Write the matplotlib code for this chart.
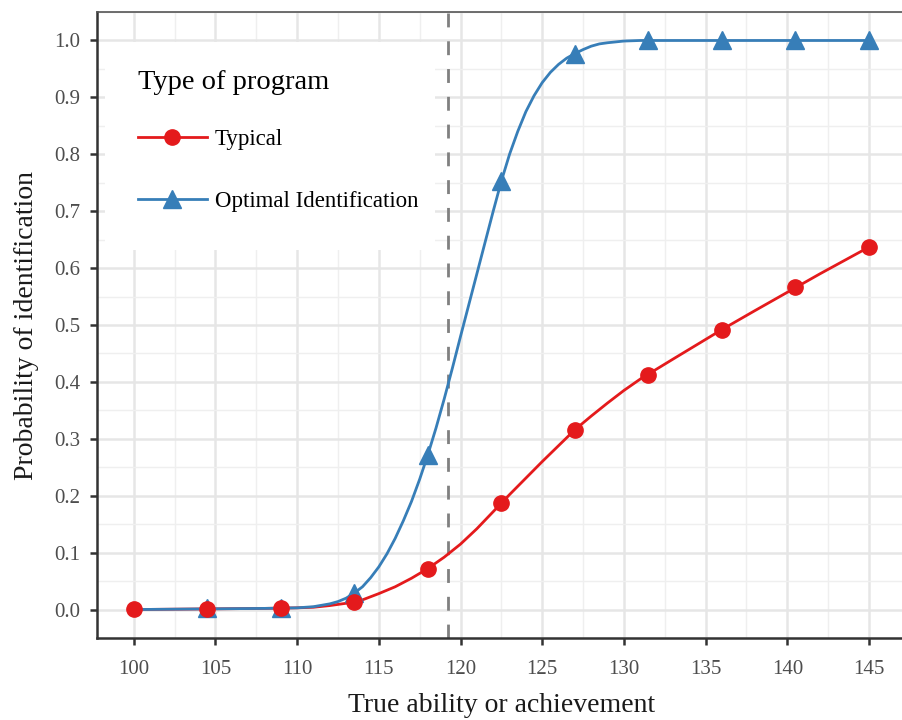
import numpy as np
import matplotlib
matplotlib.use("Agg")
import matplotlib.pyplot as plt
from matplotlib.lines import Line2D
from matplotlib.patches import Rectangle
from matplotlib.ticker import MultipleLocator

# marker positions
typical_x = [100, 104.5, 109, 113.5, 118, 122.5, 127, 131.5, 136, 140.5, 145]
typical_y = [0.001, 0.001, 0.003, 0.014, 0.072, 0.188, 0.316, 0.413, 0.492, 0.566, 0.637]

optimal_x = [104.5, 109, 113.5, 118, 122.5, 127, 131.5, 136, 140.5, 145]
optimal_y = [0.002, 0.003, 0.029, 0.272, 0.753, 0.977, 1.0, 1.0, 1.0, 1.0]

# the smooth lines, read at more x positions
typical_curve_x = [100, 104, 108, 110, 111, 112, 113, 114, 115, 116, 117, 118, 119,
                   120, 121, 122, 123, 124, 125, 126, 127, 128, 129, 130, 131, 133,
                   136, 138, 142, 145]
typical_curve = [0.000, 0.001, 0.002, 0.003, 0.004, 0.007, 0.011, 0.017, 0.028,
                 0.040, 0.055, 0.072, 0.092, 0.115, 0.142, 0.172, 0.202, 0.231,
                 0.260, 0.288, 0.316, 0.340, 0.363, 0.385, 0.405, 0.440, 0.492,
                 0.525, 0.590, 0.637]

optimal_curve_x = [100, 104, 108, 110, 111, 112, 112.5, 113, 113.5, 114, 114.5, 115,
                   115.5, 116, 116.5, 117, 117.5, 118, 118.5, 119, 119.5, 120, 120.5,
                   121, 121.5, 122, 122.5, 123, 123.5, 124, 124.5, 125, 125.5, 126,
                   126.5, 127, 127.5, 128, 128.5, 129, 130, 131, 135, 145]
optimal_curve = [0.000, 0.001, 0.002, 0.003, 0.005, 0.010, 0.014, 0.020, 0.029, 0.040,
                 0.056, 0.075, 0.098, 0.125, 0.156, 0.190, 0.229, 0.272, 0.319, 0.370,
                 0.424, 0.480, 0.535, 0.590, 0.645, 0.700, 0.753, 0.800, 0.840, 0.875,
                 0.903, 0.926, 0.944, 0.958, 0.969, 0.977, 0.984, 0.990, 0.994, 0.996,
                 0.999, 1.0, 1.0, 1.0]

cutoff = 119.25

red = "#E41A1C"
blue = "#377EB8"

plt.rcParams["font.family"] = ["Liberation Serif", "DejaVu Serif"]

fig = plt.figure(figsize=(9.02, 7.2), dpi=100)
ax = fig.add_axes([0.1075, 0.1139, 0.8967, 0.8694])

ax.plot(typical_curve_x, typical_curve, color=red, lw=2, zorder=3)
ax.plot(optimal_curve_x, optimal_curve, color=blue, lw=2, zorder=3)
ax.plot(optimal_x, optimal_y, "^", color=blue, ms=12.5, zorder=4)
ax.plot(typical_x, typical_y, "o", color=red, ms=11, zorder=5)

ax.axvline(cutoff, color="#808080", lw=2, ls=(0, (5, 5)), zorder=2)

ax.set_xlim(97.75, 147.25)
ax.set_ylim(-0.05, 1.05)
ax.xaxis.set_major_locator(MultipleLocator(5))
ax.xaxis.set_minor_locator(MultipleLocator(2.5))
ax.yaxis.set_major_locator(MultipleLocator(0.1))
ax.yaxis.set_minor_locator(MultipleLocator(0.05))
ax.yaxis.set_major_formatter(plt.FuncFormatter(lambda v, p: "%.1f" % v))

ax.grid(which="major", color="#e6e6e6", lw=1.8)
ax.grid(which="minor", color="#efefef", lw=1.0)
ax.set_axisbelow(True)

ax.tick_params(which="major", length=5, width=1.8, color="#333333",
               labelsize=15, labelcolor="#4d4d4d")
ax.tick_params(axis="x", pad=11)
ax.tick_params(axis="y", pad=7)
ax.tick_params(which="minor", length=0)
for side in ["left", "bottom"]:
    ax.spines[side].set_color("#333333")
    ax.spines[side].set_linewidth(1.8)
for side in ["top", "right"]:
    ax.spines[side].set_color("#555555")
    ax.spines[side].set_linewidth(1.2)

ax.set_xlabel("True ability or achievement", fontsize=20, color="#1a1a1a", labelpad=10)
ax.set_ylabel("Probability of identification", fontsize=20, color="#1a1a1a", labelpad=11)

# white legend background covering the grid
ax.add_patch(Rectangle((0.0099, 0.620), 0.408, 0.332, transform=ax.transAxes,
                       facecolor="white", edgecolor="none", zorder=1))

handles = [Line2D([], [], color=red, lw=2, marker="o", ms=11),
           Line2D([], [], color=blue, lw=2, marker="^", ms=12.5)]
leg = ax.legend(handles, ["Typical", "Optimal Identification"],
                title="Type of program", loc="upper left",
                bbox_to_anchor=(0.0507, 0.908), fontsize=16.5, title_fontsize=20.5,
                frameon=False, borderpad=0, borderaxespad=0, labelspacing=1.8,
                handlelength=3.0, handletextpad=0.35)
leg._legend_box.align = "left"
# gap between title and entries is labelspacing * fontsize by default, a bit less here
leg._legend_box.sep = 1.8 * 16.5 - 5
leg.set_zorder(6)

fig.savefig("out.png", dpi=100)
